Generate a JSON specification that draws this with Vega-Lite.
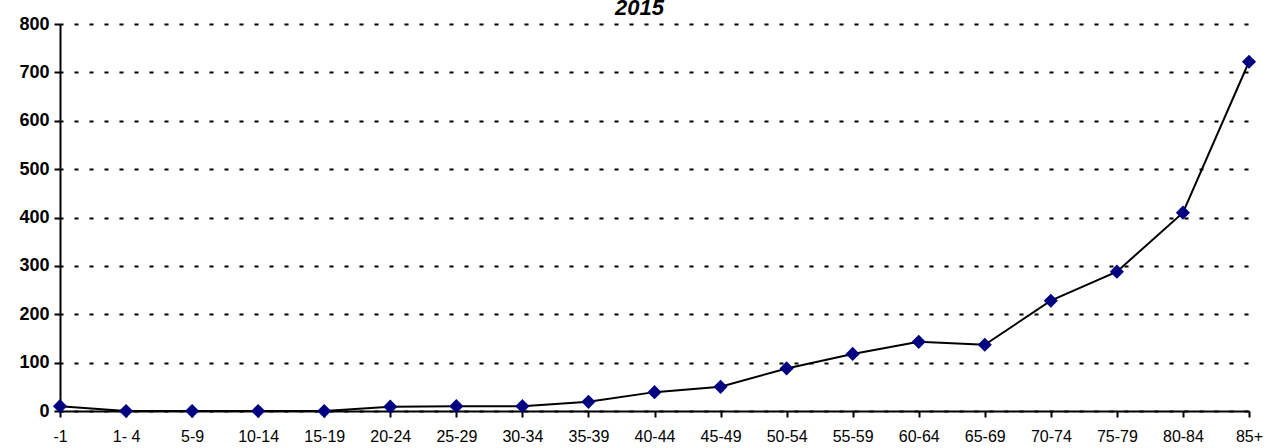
{
  "$schema": "https://vega.github.io/schema/vega-lite/v6.json",
  "width": 1189,
  "height": 387,
  "autosize": {"type": "none"},
  "padding": {"left": 60, "top": 24, "right": 20, "bottom": 37},
  "background": "white",
  "config": {"view": {"stroke": null}, "font": "Liberation Sans"},
  "title": {
    "text": "2015",
    "fontSize": 22,
    "fontStyle": "italic",
    "fontWeight": "bold",
    "font": "Liberation Sans",
    "color": "black",
    "anchor": "middle",
    "frame": "group",
    "baseline": "alphabetic",
    "offset": 0,
    "dy": 22,
    "dx": -15
  },
  "data": {
    "values": [
      {"age": "-1", "value": 10},
      {"age": "1- 4", "value": 0},
      {"age": "5-9", "value": 0},
      {"age": "10-14", "value": 0},
      {"age": "15-19", "value": 0},
      {"age": "20-24", "value": 9},
      {"age": "25-29", "value": 10},
      {"age": "30-34", "value": 10},
      {"age": "35-39", "value": 19},
      {"age": "40-44", "value": 39},
      {"age": "45-49", "value": 50},
      {"age": "50-54", "value": 88},
      {"age": "55-59", "value": 118},
      {"age": "60-64", "value": 143},
      {"age": "65-69", "value": 137},
      {"age": "70-74", "value": 228},
      {"age": "75-79", "value": 288},
      {"age": "80-84", "value": 410},
      {"age": "85+", "value": 722}
    ]
  },
  "encoding": {
    "x": {
      "field": "age",
      "type": "ordinal",
      "sort": null,
      "scale": {"type": "point", "padding": 0},
      "axis": {
        "title": null,
        "labelAngle": 0,
        "labelFontSize": 16,
        "labelColor": "black",
        "labelPadding": 11,
        "labelOverlap": false,
        "domainColor": "black",
        "domainWidth": 2,
        "tickColor": "black",
        "tickWidth": 2,
        "tickSize": 6,
        "grid": false
      }
    },
    "y": {
      "field": "value",
      "type": "quantitative",
      "scale": {"domain": [0, 800], "nice": false},
      "axis": {
        "title": null,
        "values": [0, 100, 200, 300, 400, 500, 600, 700, 800],
        "labelFontSize": 18,
        "labelFontWeight": "bold",
        "labelColor": "black",
        "labelPadding": 5,
        "domainColor": "black",
        "domainWidth": 2,
        "tickColor": "black",
        "tickWidth": 2,
        "tickSize": 6,
        "grid": true,
        "gridColor": "black",
        "gridWidth": 2,
        "gridDash": [4, 11],
        "gridDashOffset": -14
      }
    }
  },
  "layer": [
    {"mark": {"type": "line", "color": "black", "strokeWidth": 2}},
    {"mark": {"type": "point", "shape": "diamond", "filled": true, "color": "#000080", "opacity": 1, "size": 200}}
  ]
}
